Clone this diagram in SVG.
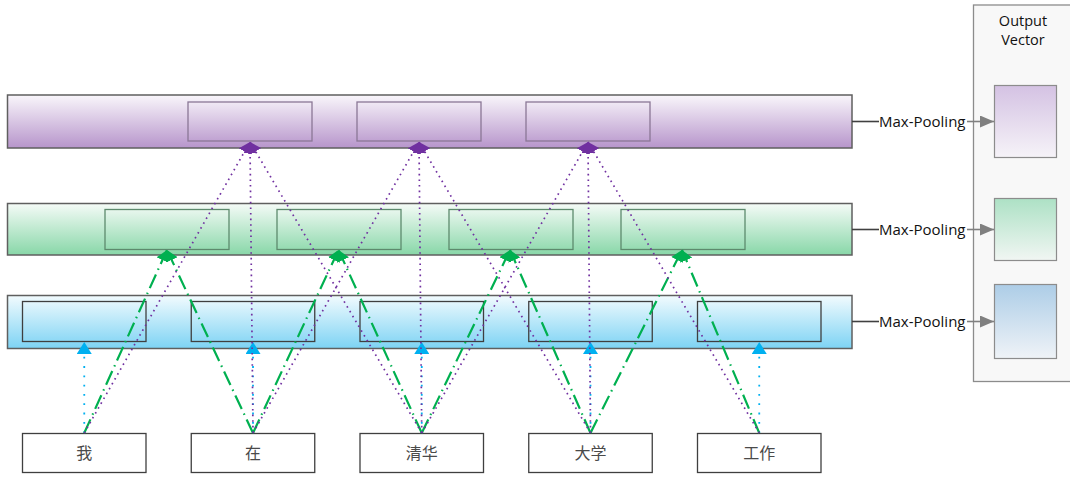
<svg xmlns="http://www.w3.org/2000/svg" width="1070" height="477" viewBox="0 0 1070 477">
  <style>
    .bar { stroke: #5f5f5f; stroke-width: 1.5; }
    .cell { fill: none; stroke-width: 1.3; }
    .cellP { stroke: #8a7796; }
    .cellG { stroke: #5d8a6d; }
    .cellB { stroke: #3f3f3f; }
    .word { fill: #ffffff; stroke: #3f3f3f; stroke-width: 1.3; }
    .wtxt { font-family: "Noto Sans CJK SC", sans-serif; font-size: 16px; fill: #4a4a4a; text-anchor: middle; }
    .lbl { font-family: "Open Sans", "Liberation Sans", sans-serif; font-size: 15px; fill: #111111; }
    .ttl { font-family: "Open Sans", "Liberation Sans", sans-serif; font-size: 14.5px; fill: #111111; text-anchor: middle; }
    .blue { stroke: #00b0f0; stroke-width: 1.8; stroke-dasharray: 1.8 7.5; fill: none; marker-end: url(#mkBlue); }
    .green { stroke: #00b050; stroke-width: 2.2; stroke-dasharray: 15 5 1.5 5; fill: none; marker-end: url(#mkGreen); }
    .purple { stroke: #7030a0; stroke-width: 1.7; stroke-dasharray: 1.6 4; fill: none; marker-end: url(#mkPurple); }
    .lead { stroke: #404040; stroke-width: 1.6; }
    .pool { stroke: #808080; stroke-width: 1.6; marker-end: url(#mkGray); }
    .ov { stroke: #8c8c8c; stroke-width: 1.2; }
  </style>
  <defs>
    <linearGradient id="gP" x1="0" y1="0" x2="0" y2="1">
      <stop offset="0" stop-color="#f9f6fb"/>
      <stop offset="1" stop-color="#b795cb"/>
    </linearGradient>
    <linearGradient id="gG" x1="0" y1="0" x2="0" y2="1">
      <stop offset="0" stop-color="#f5fbf7"/>
      <stop offset="1" stop-color="#88d7a8"/>
    </linearGradient>
    <linearGradient id="gB" x1="0" y1="0" x2="0" y2="1">
      <stop offset="0" stop-color="#f2fbfe"/>
      <stop offset="1" stop-color="#7dd3f4"/>
    </linearGradient>
    <linearGradient id="oP" x1="0" y1="0" x2="0" y2="1">
      <stop offset="0" stop-color="#d4c2e3"/>
      <stop offset="1" stop-color="#f6f3f8"/>
    </linearGradient>
    <linearGradient id="oG" x1="0" y1="0" x2="0" y2="1">
      <stop offset="0" stop-color="#ade1c5"/>
      <stop offset="1" stop-color="#f1f6f3"/>
    </linearGradient>
    <linearGradient id="oB" x1="0" y1="0" x2="0" y2="1">
      <stop offset="0" stop-color="#adcde7"/>
      <stop offset="1" stop-color="#eff3f7"/>
    </linearGradient>
    <marker id="mkBlue" markerUnits="userSpaceOnUse" viewBox="0 0 12 15" refX="12" refY="7.5" markerWidth="12" markerHeight="15" orient="auto">
      <path d="M0,0 L12,7.5 L0,15 z" fill="#00b0f0"/>
    </marker>
    <marker id="mkGreen" markerUnits="userSpaceOnUse" viewBox="0 0 11 13" refX="11" refY="6.5" markerWidth="11" markerHeight="13" orient="auto">
      <path d="M0,0 L11,6.5 L0,13 z" fill="#00b050"/>
    </marker>
    <marker id="mkPurple" markerUnits="userSpaceOnUse" viewBox="0 0 11 13" refX="11" refY="6.5" markerWidth="11" markerHeight="13" orient="auto">
      <path d="M0,0 L11,6.5 L0,13 z" fill="#7030a0"/>
    </marker>
    <marker id="mkGray" markerUnits="userSpaceOnUse" viewBox="0 0 14 12" refX="14" refY="6" markerWidth="14" markerHeight="12" orient="auto">
      <path d="M0,0 L14,6 L0,12 z" fill="#808080"/>
    </marker>
  </defs>

  <!-- output vector panel -->
  <g id="output-vector">
    <rect x="973.5" y="5" width="110" height="376.5" fill="#f8f8f8" stroke="#8c8c8c" stroke-width="1.3"/>
    <text class="ttl" x="1023" y="26">Output</text>
    <text class="ttl" x="1023" y="45">Vector</text>
    <rect class="ov" x="994.5" y="85.5" width="62" height="72" fill="url(#oP)"/>
    <rect class="ov" x="994.5" y="198.5" width="62" height="62" fill="url(#oG)"/>
    <rect class="ov" x="994.5" y="284.5" width="62" height="74" fill="url(#oB)"/>
  </g>

  <!-- layer 3: window size 3 -->
  <g id="layer-purple">
    <rect class="bar" x="7.5" y="95" width="844.5" height="53" fill="url(#gP)"/>
    <rect class="cell cellP" x="188" y="102" width="124" height="39"/>
    <rect class="cell cellP" x="357" y="102" width="124" height="39"/>
    <rect class="cell cellP" x="526" y="102" width="124" height="39"/>
  </g>

  <!-- layer 2: window size 2 -->
  <g id="layer-green">
    <rect class="bar" x="7.5" y="203.5" width="844.5" height="51.5" fill="url(#gG)"/>
    <rect class="cell cellG" x="105" y="209.5" width="124" height="40"/>
    <rect class="cell cellG" x="277" y="209.5" width="124" height="40"/>
    <rect class="cell cellG" x="449" y="209.5" width="124" height="40"/>
    <rect class="cell cellG" x="621" y="209.5" width="124" height="40"/>
  </g>

  <!-- layer 1: window size 1 -->
  <g id="layer-blue">
    <rect class="bar" x="7.5" y="295.5" width="844.5" height="53" fill="url(#gB)"/>
    <rect class="cell cellB" x="22.5" y="301.5" width="123.5" height="40"/>
    <rect class="cell cellB" x="191.25" y="301.5" width="123.5" height="40"/>
    <rect class="cell cellB" x="360" y="301.5" width="123.5" height="40"/>
    <rect class="cell cellB" x="528.75" y="301.5" width="123.5" height="40"/>
    <rect class="cell cellB" x="697.5" y="301.5" width="123.5" height="40"/>
  </g>

  <!-- input tokens -->
  <g id="word-0"><rect class="word" x="22.5" y="433.5" width="123.5" height="39"/><text class="wtxt" x="84.25" y="458.5">我</text></g>
  <g id="word-1"><rect class="word" x="191.25" y="433.5" width="123.5" height="39"/><text class="wtxt" x="253" y="458.5">在</text></g>
  <g id="word-2"><rect class="word" x="360" y="433.5" width="123.5" height="39"/><text class="wtxt" x="421.75" y="458.5">清华</text></g>
  <g id="word-3"><rect class="word" x="528.75" y="433.5" width="123.5" height="39"/><text class="wtxt" x="590.5" y="458.5">大学</text></g>
  <g id="word-4"><rect class="word" x="697.5" y="433.5" width="123.5" height="39"/><text class="wtxt" x="759.25" y="458.5">工作</text></g>

  <g id="connectors">
    <!-- unigram -->
    <line class="blue" x1="84.25" y1="433" x2="84.25" y2="342"/>
    <line class="blue" x1="253" y1="433" x2="253" y2="342"/>
    <line class="blue" x1="421.75" y1="433" x2="421.75" y2="342"/>
    <line class="blue" x1="590.5" y1="433" x2="590.5" y2="342"/>
    <line class="blue" x1="759.25" y1="433" x2="759.25" y2="342"/>
    <!-- bigram -->
    <line class="green" x1="84.25" y1="433" x2="167" y2="250"/>
    <line class="green" x1="253" y1="433" x2="167" y2="250"/>
    <line class="green" x1="253" y1="433" x2="338.5" y2="250"/>
    <line class="green" x1="421.75" y1="433" x2="338.5" y2="250"/>
    <line class="green" x1="421.75" y1="433" x2="510" y2="250"/>
    <line class="green" x1="590.5" y1="433" x2="510" y2="250"/>
    <line class="green" x1="590.5" y1="433" x2="682" y2="250"/>
    <line class="green" x1="759.25" y1="433" x2="682" y2="250"/>
    <!-- trigram -->
    <line class="purple" x1="84.25" y1="433" x2="250" y2="142"/>
    <line class="purple" x1="253" y1="433" x2="250" y2="142"/>
    <line class="purple" x1="421.75" y1="433" x2="250" y2="142"/>
    <line class="purple" x1="253" y1="433" x2="419" y2="142"/>
    <line class="purple" x1="421.75" y1="433" x2="419" y2="142"/>
    <line class="purple" x1="590.5" y1="433" x2="419" y2="142"/>
    <line class="purple" x1="421.75" y1="433" x2="588" y2="142"/>
    <line class="purple" x1="590.5" y1="433" x2="588" y2="142"/>
    <line class="purple" x1="759.25" y1="433" x2="588" y2="142"/>
    <!-- pooling -->
    <line class="lead" x1="852" y1="121.5" x2="879" y2="121.5"/>
    <line class="pool" x1="967" y1="121.5" x2="994" y2="121.5"/>
    <line class="lead" x1="852" y1="229.5" x2="879" y2="229.5"/>
    <line class="pool" x1="967" y1="229.5" x2="994" y2="229.5"/>
    <line class="lead" x1="852" y1="321.5" x2="879" y2="321.5"/>
    <line class="pool" x1="967" y1="321.5" x2="994" y2="321.5"/>
  </g>

  <g id="pool-labels">
    <text class="lbl" x="879" y="126.5">Max-Pooling</text>
    <text class="lbl" x="879" y="234.5">Max-Pooling</text>
    <text class="lbl" x="879" y="326.5">Max-Pooling</text>
  </g>
</svg>
